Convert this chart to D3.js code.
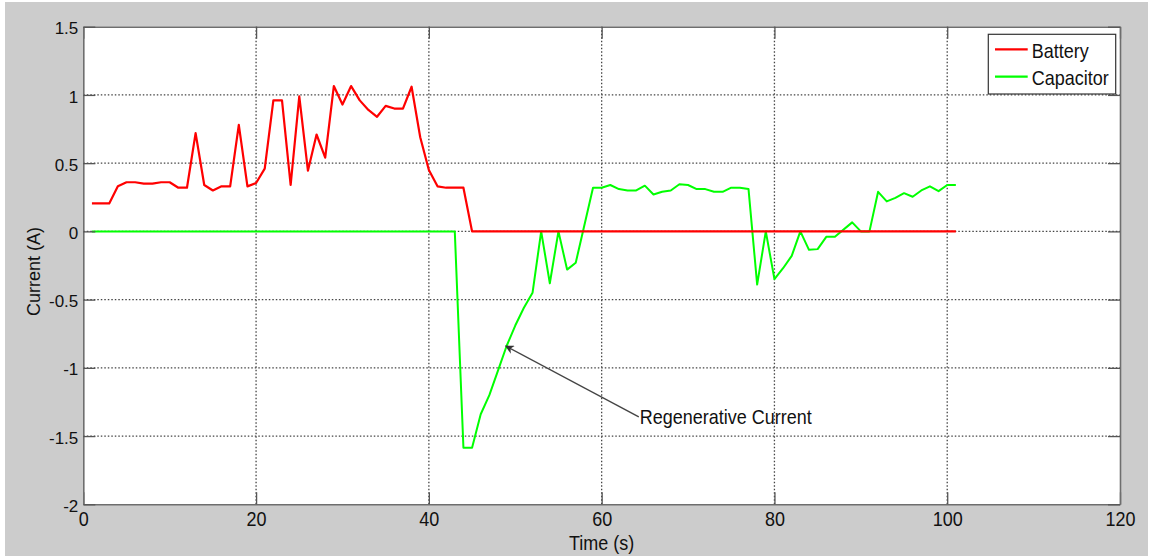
<!DOCTYPE html>
<html><head><meta charset="utf-8">
<script src="https://cdn.jsdelivr.net/npm/d3@7"></script>
<style>
body{margin:0;background:#fff}
text{font-family:Arial,"Liberation Sans",Helvetica,sans-serif;fill:#111}
</style>
</head><body>
<svg id="chart" width="1155" height="556"></svg>
<script>
// ---- data ----
const xTicks = [0, 20, 40, 60, 80, 100, 120];
const yTicks = [-2, -1.5, -1, -0.5, 0, 0.5, 1, 1.5];
const yTickLabels = ["-2", "-1.5", "-1", "-0.5", "0", "0.5", "1", "1.5"];
const seriesNames = ["Battery", "Capacitor"];
const xLabel = "Time (s)";
const yLabel = "Current (A)";

const batteryTime = [1,3,4,5,6,7,8,9,10,11,12,13,14,15,16,17,18,19,20,21,22,23,24,25,26,27,28,29,30,31,32,33,34,35,36,37,38,39,40,41,42,44,45,101];
const batteryCurrent = [0.205,0.205,0.33,0.36,0.36,0.35,0.35,0.36,0.36,0.32,0.32,0.72,0.34,0.30,0.33,0.33,0.78,0.33,0.355,0.46,0.96,0.96,0.34,0.99,0.445,0.71,0.54,1.065,0.93,1.065,0.96,0.89,0.84,0.92,0.90,0.90,1.06,0.69,0.45,0.33,0.32,0.32,0,0];

const capacitorTime = [1,43,44,45,46,47,48,49,50,51,52,53,54,55,56,57,59,60,61,62,63,64,65,66,67,68,69,70,71,72,73,74,75,76,77,78,79,80,81,82,83,84,85,86,87,89,90,91,92,93,94,95,96,97,98,99,100,101];
const capacitorCurrent = [0,0,-1.586,-1.586,-1.34,-1.2,-1.02,-0.84,-0.69,-0.56,-0.45,0,-0.38,0,-0.28,-0.23,0.32,0.32,0.34,0.31,0.30,0.30,0.335,0.27,0.29,0.30,0.345,0.34,0.31,0.31,0.29,0.29,0.32,0.32,0.31,-0.39,0,-0.35,-0.27,-0.18,0,-0.135,-0.13,-0.04,-0.04,0.066,0,0,0.29,0.22,0.246,0.28,0.254,0.30,0.33,0.295,0.34,0.34];

const annotationText = "Regenerative Current";
const annotationTip = [48.9, -0.84];
const annotationTextPos = [64.3, -1.41];

// ---- layout ----
const W = 1155, H = 556;
const L = 83.3, R = 1120, T = 26.7, B = 504.3;
const svg = d3.select("#chart");

const x = d3.scaleLinear().domain([0, 120]).range([L, R]);
const y = d3.scaleLinear().domain([-2, 1.5]).range([B, T]);

svg.append("rect").attr("x", 5).attr("y", 2).attr("width", 1143).attr("height", H - 2).attr("fill", "#cccccc");
svg.append("rect").attr("x", L).attr("y", T).attr("width", R - L).attr("height", B - T).attr("fill", "#fff");

// grid
const grid = svg.append("g").attr("stroke", "#444").attr("stroke-width", 1.3).attr("stroke-dasharray", "1.5,2");
grid.selectAll(".gx").data(xTicks.slice(1, -1)).join("line")
  .attr("x1", d => x(d)).attr("x2", d => x(d)).attr("y1", T).attr("y2", B);
grid.selectAll(".gy").data(yTicks.slice(1, -1)).join("line")
  .attr("y1", d => y(d)).attr("y2", d => y(d)).attr("x1", L).attr("x2", R);

// series
const line = d3.line().x(d => x(d[0])).y(d => y(d[1]));
const capData = capacitorTime.map((t, i) => [t, capacitorCurrent[i]]);
const batData = batteryTime.map((t, i) => [t, batteryCurrent[i]]);
svg.append("path").datum(capData).attr("d", line).attr("fill", "none")
  .attr("stroke", "#00ff00").attr("stroke-width", 2).attr("stroke-linejoin", "round");
svg.append("path").datum(batData).attr("d", line).attr("fill", "none")
  .attr("stroke", "#ff0000").attr("stroke-width", 2.2).attr("stroke-linejoin", "round");

// axes (inward ticks)
const tickLen = 12;
const axB = svg.append("g").attr("transform", `translate(0,${B})`)
  .call(d3.axisBottom(x).tickValues(xTicks).tickSizeInner(-tickLen).tickSizeOuter(0).tickFormat(d3.format("d")));
const axT = svg.append("g").attr("transform", `translate(0,${T})`)
  .call(d3.axisTop(x).tickValues(xTicks).tickSizeInner(-tickLen).tickSizeOuter(0).tickFormat(""));
const axL = svg.append("g").attr("transform", `translate(${L},0)`)
  .call(d3.axisLeft(y).tickValues(yTicks).tickSizeInner(-tickLen).tickSizeOuter(0).tickFormat((d, i) => yTickLabels[i]));
const axR = svg.append("g").attr("transform", `translate(${R},0)`)
  .call(d3.axisRight(y).tickValues(yTicks).tickSizeInner(-tickLen).tickSizeOuter(0).tickFormat(""));
[axB, axT, axL, axR].forEach(a => {
  a.select(".domain").attr("stroke", "#6e6e6e").attr("stroke-width", 1.6);
  a.selectAll(".tick line").attr("stroke", "#555").attr("stroke-width", 1.3);
});
axB.selectAll(".tick text").attr("y", null).attr("dy", null)
  .attr("transform", `translate(0,${526 - B}) scale(1,1.1)`)
  .style("font-size", "18px").attr("fill", "#111");
axL.selectAll(".tick text").attr("x", -5).attr("dy", "0.42em")
  .style("font-size", "17px").attr("fill", "#111");

// axis labels
svg.append("text").attr("transform", `translate(${(L + R) / 2},549.5) scale(1,1.1)`)
  .attr("text-anchor", "middle").style("font-size", "18px").text(xLabel);
svg.append("text").attr("transform", `translate(40,${(T + B) / 2 + 6}) rotate(-90)`)
  .attr("text-anchor", "middle").style("font-size", "18px").text(yLabel);

// legend
const lg = svg.append("g");
lg.append("rect").attr("x", 988.3).attr("y", 34.3).attr("width", 127.4).attr("height", 59.7)
  .attr("fill", "#fff").attr("stroke", "#333").attr("stroke-width", 1.2);
const legColors = ["#ff0000", "#00ff00"];
seriesNames.forEach((n, i) => {
  const ly = 49.3 + i * 27.4;
  lg.append("line").attr("x1", 995).attr("x2", 1027.7).attr("y1", ly).attr("y2", ly)
    .attr("stroke", legColors[i]).attr("stroke-width", 2.2);
  lg.append("text").attr("transform", `translate(1031.7,${ly + 8.6}) scale(1,1.15)`)
    .style("font-size", "18px").text(n);
});

// annotation
const defs = svg.append("defs");
defs.append("marker").attr("id", "arr").attr("viewBox", "0 0 10 10").attr("refX", 9).attr("refY", 5)
  .attr("markerWidth", 9).attr("markerHeight", 9).attr("orient", "auto-start-reverse")
  .attr("markerUnits", "userSpaceOnUse")
  .append("path").attr("d", "M0,0 L10,5 L0,10 L3,5 Z").attr("fill", "#333");
const tx = x(annotationTextPos[0]), ty = y(annotationTextPos[1]);
svg.append("line").attr("x1", tx).attr("y1", ty - 7).attr("x2", x(annotationTip[0])).attr("y2", y(annotationTip[1]))
  .attr("stroke", "#444").attr("stroke-width", 1.4).attr("marker-end", "url(#arr)");
svg.append("text").attr("transform", `translate(${tx + 1},${ty}) scale(1,1.15)`)
  .style("font-size", "18px").text(annotationText);
</script>
</body></html>
